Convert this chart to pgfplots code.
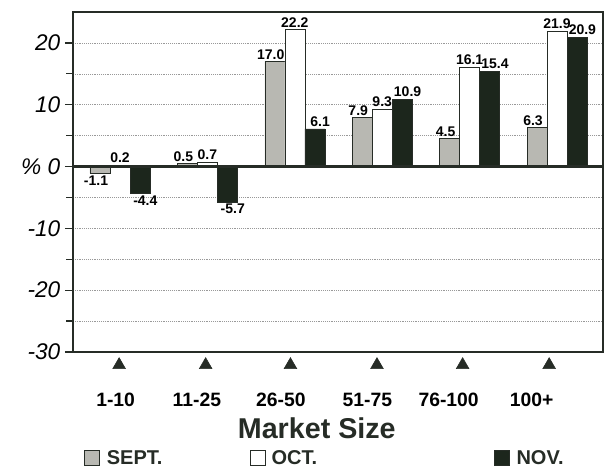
\documentclass[border=0pt]{standalone}
\usepackage{fontspec}
\setmainfont{Liberation Sans}
\usepackage{pgfplots}
\pgfplotsset{compat=1.18}

\definecolor{septfill}{RGB}{184,184,178}
\definecolor{novfill}{RGB}{28,38,28}
\definecolor{edge}{RGB}{38,44,38}

\pgfplotsset{
  valbar/.style={ybar, bar width=0.229, bar shift=0, draw=edge,
    nodes near coords={\pgfmathprintnumber[fixed,fixed zerofill,precision=1]{\pgfplotspointmeta}},
    nodes near coords style={font=\bfseries\fontsize{10.5}{11}\selectfont, text=black, inner sep=1.5pt}},
}

\begin{document}
\begin{tikzpicture}
\begin{axis}[
    scale only axis, width=397.5pt, height=255pt,
    xmin=-0.538, xmax=5.526, ymin=-30, ymax=25,
    axis line style={edge, line width=1.2pt},
    xtick={-0.05,0.88,1.84,2.83,3.76,4.71},
    xticklabels={1-10,11-25,26-50,51-75,76-100,100+},
    x tick style={draw=none},
    xticklabel style={font=\bfseries\fontsize{14.5}{15}\selectfont, yshift=-21pt},
    ytick={-30,-20,...,20},
    yticklabels={-30,-20,-10,{\% 0},10,20},
    minor ytick={-25,-15,...,15},
    ytick pos=left, tick align=outside,
    major tick length=6pt, minor tick length=5pt,
    y tick style={edge, line width=1pt},
    yticklabel style={font=\itshape\fontsize{17}{18}\selectfont},
    ymajorgrids, yminorgrids,
    major grid style={densely dotted, gray!80},
    minor grid style={densely dotted, gray!80},
    /pgf/number format/assume math mode=true,
    clip=false,
  ]
  % SEPT
  \addplot[valbar, fill=septfill, every node near coord/.append style={xshift=-3pt}]
  coordinates {(-0.229,-1.1) (0.771,0.5) (1.771,17.0) (2.771,7.9) (3.771,4.5) (4.771,6.3)};
  % OCT
  \addplot[valbar, fill=white]
  coordinates {(0,0.2) (1,0.7) (2,22.2) (3,9.3) (4,16.1) (5,21.9)};
  % NOV
  \addplot[valbar, fill=novfill, every node near coord/.append style={xshift=4pt}]
  coordinates {(0.229,-4.4) (1.229,-5.7) (2.229,6.1) (3.229,10.9) (4.229,15.4) (5.229,20.9)};

  % zero line
  \addplot[edge, line width=1.6pt, no marks, forget plot]
  coordinates {(-0.538,0) (5.526,0)};

  % category markers
  \addplot[only marks, mark=triangle*, mark size=5.5pt, draw=edge, fill=edge]
  coordinates {(-0.01,-32.1) (0.98,-32.1) (1.95,-32.1) (2.94,-32.1) (3.92,-32.1) (4.91,-32.1)};

  \node[font=\bfseries\fontsize{21.5}{22}\selectfont, text=edge] at (rel axis cs:0.46,-0.2235) {Market Size};

  % legend
  \node[draw=edge, fill=septfill, minimum size=11pt, inner sep=0pt] at (rel axis cs:0.036,-0.312) {};
  \node[anchor=west, font=\bfseries\fontsize{15}{16}\selectfont, text=edge] at (rel axis cs:0.055,-0.312) {SEPT.};
  \node[draw=edge, fill=white, minimum size=11pt, inner sep=0pt, line width=0.8pt] at (rel axis cs:0.349,-0.312) {};
  \node[anchor=west, font=\bfseries\fontsize{15}{16}\selectfont, text=edge] at (rel axis cs:0.366,-0.312) {OCT.};
  \node[draw=edge, fill=novfill, minimum size=11pt, inner sep=0pt] at (rel axis cs:0.809,-0.312) {};
  \node[anchor=west, font=\bfseries\fontsize{15}{16}\selectfont, text=edge] at (rel axis cs:0.828,-0.312) {NOV.};

  \coordinate (bbl) at (rel axis cs:-0.1377,-0.3588);
  \coordinate (btr) at (rel axis cs:1.00566,1.0353);
\end{axis}
\pgfresetboundingbox
\useasboundingbox (bbl) rectangle (btr);
\end{tikzpicture}
\end{document}
